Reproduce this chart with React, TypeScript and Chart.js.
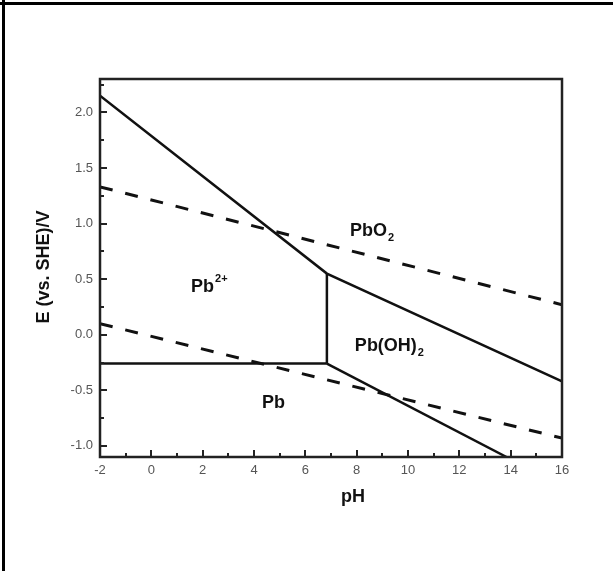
import React, { useEffect, useRef } from "react";
import { Chart, registerables } from "chart.js";

Chart.register(...registerables);

// Axis ranges and ticks
const X_MIN = -2;
const X_MAX = 16;
const Y_MIN = -1.1;
const Y_MAX = 2.3;
const xMajorTicks = [-2, 0, 2, 4, 6, 8, 10, 12, 14, 16];
const xMinorTicks = [-1, 1, 3, 5, 7, 9, 11, 13, 15];
const yMajorTicks = [-1.0, -0.5, 0, 0.5, 1.0, 1.5, 2.0];
const yMinorTicks = [-0.75, -0.25, 0.25, 0.75, 1.25, 1.75, 2.25];

// Boundary lines (pH, E)
const pbo2Boundary = [
  { x: -2, y: 2.15 },
  { x: 6.84, y: 0.55 },
  { x: 16, y: -0.42 },
];
const pb2HydroxideBoundary = [
  { x: 6.84, y: 0.55 },
  { x: 6.84, y: -0.26 },
];
const pb2MetalBoundary = [
  { x: -2, y: -0.26 },
  { x: 6.84, y: -0.26 },
];
const hydroxideMetalBoundary = [
  { x: 6.84, y: -0.26 },
  { x: 13.84, y: -1.1 },
];
const oxygenLine = [
  { x: -2, y: 1.33 },
  { x: 16, y: 0.27 },
];
const hydrogenLine = [
  { x: -2, y: 0.1 },
  { x: 16, y: -0.93 },
];

// Region labels (data coordinates of text baseline start)
const regionMain = ["PbO", "Pb", "Pb(OH)", "Pb"];
const regionSub = ["2", "", "2", ""];
const regionSup = ["", "2+", "", ""];
const regionX = [7.74, 1.55, 7.93, 4.31];
const regionY = [0.89, 0.38, -0.15, -0.66];

const X_TITLE = "pH";
const Y_TITLE = "E (vs. SHE)/V";

const FONT = "'Liberation Sans', Arial, Helvetica, sans-serif";

const decorPlugin = {
  id: "decor",
  afterDraw(chart: any) {
    const { ctx, chartArea, scales } = chart;
    const xs = scales.x;
    const ys = scales.y;
    ctx.save();
    // frame
    ctx.strokeStyle = "#222";
    ctx.lineWidth = 2.5;
    ctx.strokeRect(
      chartArea.left,
      chartArea.top,
      chartArea.right - chartArea.left,
      chartArea.bottom - chartArea.top
    );
    // inward ticks
    ctx.lineWidth = 2;
    const drawX = (vals: number[], len: number) => {
      vals.forEach((v) => {
        const px = Math.round(xs.getPixelForValue(v));
        ctx.beginPath();
        ctx.moveTo(px, chartArea.bottom);
        ctx.lineTo(px, chartArea.bottom - len);
        ctx.stroke();
      });
    };
    const drawY = (vals: number[], len: number) => {
      vals.forEach((v) => {
        const py = Math.round(ys.getPixelForValue(v));
        ctx.beginPath();
        ctx.moveTo(chartArea.left, py);
        ctx.lineTo(chartArea.left + len, py);
        ctx.stroke();
      });
    };
    drawX(xMajorTicks, 7);
    drawX(xMinorTicks, 4);
    drawY(yMajorTicks, 7);
    drawY(yMinorTicks, 4);

    // region labels
    ctx.fillStyle = "#111";
    ctx.textBaseline = "alphabetic";
    ctx.textAlign = "left";
    regionMain.forEach((m, i) => {
      const px = xs.getPixelForValue(regionX[i]);
      const py = ys.getPixelForValue(regionY[i]);
      ctx.font = `bold 18px ${FONT}`;
      ctx.fillText(m, px, py);
      const w = ctx.measureText(m).width;
      if (regionSub[i]) {
        ctx.font = `bold 11px ${FONT}`;
        ctx.fillText(regionSub[i], px + w + 1, py + 5);
      }
      if (regionSup[i]) {
        ctx.font = `bold 11px ${FONT}`;
        ctx.fillText(regionSup[i], px + w + 1, py - 10);
      }
    });

    // axis titles
    ctx.font = `bold 18px ${FONT}`;
    ctx.textAlign = "center";
    ctx.textBaseline = "middle";
    ctx.fillText(X_TITLE, 353, 497);
    ctx.translate(44, 267);
    ctx.rotate(-Math.PI / 2);
    ctx.fillText(Y_TITLE, 0, 0);
    ctx.restore();
  },
};

export default function App() {
  const ref = useRef<HTMLCanvasElement | null>(null);

  useEffect(() => {
    if (!ref.current) return;
    const solid = (data: any[]) => ({
      data,
      showLine: true,
      borderColor: "#111",
      borderWidth: 2.5,
      pointRadius: 0,
      fill: false,
    });
    const dashed = (data: any[]) => ({
      data,
      showLine: true,
      borderColor: "#111",
      borderWidth: 3,
      borderDash: [13, 13],
      pointRadius: 0,
      fill: false,
    });
    const chart = new Chart(ref.current, {
      type: "scatter",
      data: {
        datasets: [
          solid(pbo2Boundary),
          solid(pb2HydroxideBoundary),
          solid(pb2MetalBoundary),
          solid(hydroxideMetalBoundary),
          dashed(oxygenLine),
          dashed(hydrogenLine),
        ] as any,
      },
      options: {
        responsive: false,
        animation: false,
        devicePixelRatio: 1,
        layout: { padding: { top: 79, right: 51, left: 0, bottom: 0 } },
        plugins: {
          legend: { display: false },
          tooltip: { enabled: false },
          title: { display: false },
        },
        scales: {
          x: {
            type: "linear",
            min: X_MIN,
            max: X_MAX,
            grid: { display: false, drawTicks: false },
            border: { display: false },
            afterFit: (s: any) => {
              s.height = 114;
            },
            ticks: {
              stepSize: 2,
              includeBounds: false,
              padding: 6,
              color: "#555",
              font: { family: FONT, size: 13 },
              maxRotation: 0,
              autoSkip: false,
              callback: (v: any) => String(Math.round(Number(v))),
            },
          },
          y: {
            type: "linear",
            min: Y_MIN,
            max: Y_MAX,
            grid: { display: false, drawTicks: false },
            border: { display: false },
            afterFit: (s: any) => {
              s.width = 100;
            },
            ticks: {
              stepSize: 0.5,
              includeBounds: false,
              padding: 7,
              color: "#555",
              font: { family: FONT, size: 13 },
              autoSkip: false,
              callback: (v: any) => Number(v).toFixed(1),
            },
          },
        },
      },
      plugins: [decorPlugin],
    });
    return () => chart.destroy();
  }, []);

  return (
    <div
      style={{
        position: "fixed",
        left: 0,
        top: 0,
        width: 613,
        height: 571,
        background: "#fff",
        overflow: "hidden",
      }}
    >
      <canvas
        ref={ref}
        width={613}
        height={571}
        style={{ position: "absolute", left: 0, top: 0, width: 613, height: 571 }}
      />
      <div
        style={{ position: "absolute", left: 0, top: 2, width: 613, height: 3, background: "#000" }}
      />
      <div
        style={{ position: "absolute", left: 2, top: 0, width: 3, height: 571, background: "#000" }}
      />
    </div>
  );
}
